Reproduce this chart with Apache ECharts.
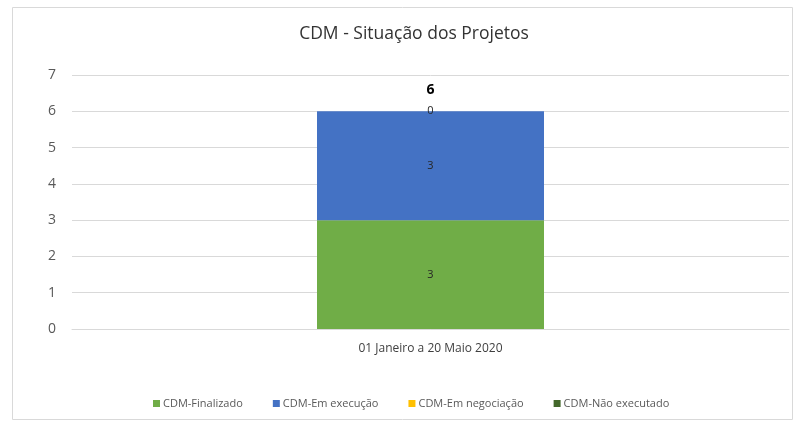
<!DOCTYPE html>
<html>
<head>
<meta charset="utf-8">
<script src="https://cdn.jsdelivr.net/npm/echarts@6/dist/echarts.min.js"></script>
<style>
  html, body { margin: 0; padding: 0; background: #fff; }
  #chart { width: 794px; height: 421px; }
</style>
</head>
<body>
<div id="chart"></div>
<script>
// dados
const categories = ['01 Janeiro a 20 Maio 2020']
const seriesNames = ['CDM-Finalizado', 'CDM-Em execução', 'CDM-Em negociação', 'CDM-Não executado']
const finalizado = [3]
const emExecucao = [3]
const emNegociacao = [0]
const naoExecutado = [0]
const yTicks = [0, 1, 2, 3, 4, 5, 6, 7]

const colors = ['#70ad47', '#4472c4', '#ffc000', '#43682b']
const values = [finalizado, emExecucao, emNegociacao, naoExecutado]
const totals = categories.map((c, i) => values.reduce((s, v) => s + v[i], 0))

const font = 'Open Sans, Noto Sans, sans-serif'

const chart = echarts.init(document.getElementById('chart'))

const series = seriesNames.map((name, k) => {
  const s = {
    name,
    type: 'bar',
    stack: 'total',
    data: values[k],
    barWidth: 227,
    itemStyle: { color: colors[k] },
    label: {
      show: k < 3,
      position: 'inside',
      color: '#262626',
      fontSize: 11,
      fontFamily: font
    }
  }
  if (k === 3) {
    // total acima da barra
    s.label = {
      show: true,
      position: 'top',
      distance: 14,
      formatter: (p) => totals[p.dataIndex],
      color: '#000',
      fontSize: 14,
      fontWeight: 'bold',
      fontFamily: font
    }
  }
  return s
})

chart.setOption({
  animation: false,
  color: colors,
  title: {
    text: 'CDM - Situação dos Projetos',
    left: 409,
    top: 20,
    textAlign: 'center',
    textStyle: { color: '#333', fontSize: 17.5, fontWeight: 'normal', fontFamily: font }
  },
  legend: {
    bottom: 7,
    left: 148,
    itemWidth: 7,
    itemHeight: 7,
    itemGap: 30,
    icon: 'rect',
    textStyle: { color: '#595959', fontSize: 11, fontFamily: font, padding: [0, 0, 0, -2] },
    data: seriesNames
  },
  grid: { left: 72, right: 5, top: 75, bottom: 92 },
  xAxis: {
    type: 'category',
    data: categories,
    axisLine: { lineStyle: { color: '#d9d9d9' } },
    axisTick: { show: false },
    axisLabel: { color: '#404040', fontSize: 12, fontFamily: font, margin: 14 }
  },
  yAxis: {
    type: 'value',
    min: yTicks[0],
    max: yTicks[yTicks.length - 1],
    interval: 1,
    axisLine: { show: false },
    axisTick: { show: false },
    splitLine: { lineStyle: { color: '#d9d9d9' } },
    axisLabel: { color: '#595959', fontSize: 14, fontFamily: font, margin: 16 }
  },
  graphic: [{
    type: 'rect',
    shape: { x: 12.5, y: 7.5, width: 780, height: 412 },
    style: { fill: 'none', stroke: '#d9d9d9', lineWidth: 1 },
    silent: true
  }],
  series
})
</script>
</body>
</html>
